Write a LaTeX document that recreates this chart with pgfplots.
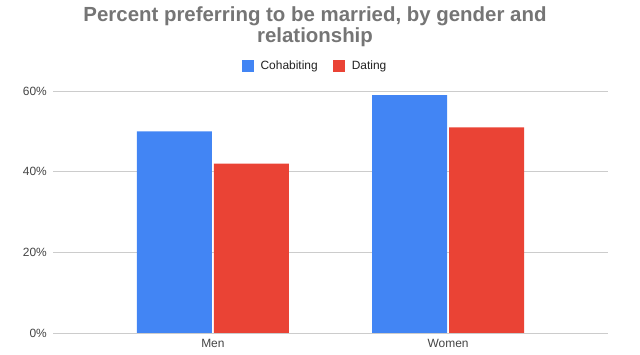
\documentclass[border=0pt]{standalone}
\usepackage{pgfplots}
\pgfplotsset{compat=1.18}
\usepackage{fontspec}
\setmainfont{Liberation Sans}
\definecolor{cblue}{HTML}{4285F4}
\definecolor{cred}{HTML}{EA4335}
\definecolor{ctitle}{HTML}{757575}
\definecolor{ctick}{HTML}{444444}
\definecolor{cgrid}{HTML}{CCCCCC}
\definecolor{cbase}{HTML}{333333}
\definecolor{clegend}{HTML}{222222}
\begin{document}
\begin{tikzpicture}
\useasboundingbox (-53bp,-22bp) rectangle (587bp,333bp);
\begin{axis}[
  scale only axis, width=555bp, height=242bp,
  at={(0,0)}, anchor=south west,
  ymin=0, ymax=60, xmin=-0.68, xmax=1.68,
  xtick={0,1}, xticklabels={Men,Women},
  ytick={0,20,40,60},
  yticklabel={\pgfmathprintnumber{\tick}\%},
  /pgf/number format/assume math mode=true,
  ymajorgrids, grid style={cgrid, line width=1bp},
  axis line style={draw=none},
  major tick length=0pt,
  ybar=2bp, bar width=75bp,
  tick label style={font=\fontsize{12}{14}\selectfont, text=ctick},
  yticklabel style={inner sep=0pt, xshift=-6bp},
  xticklabel style={inner sep=0pt, yshift=-6bp},
  legend style={at={(0.472,1.1033)}, anchor=center, draw=none,
    font=\fontsize{12}{14}\selectfont, text=clegend,
    legend columns=2,
    /tikz/every odd column/.append style={column sep=5bp},
    /tikz/every even column/.append style={column sep=13bp}},
  legend image code/.code={\fill[#1,draw=none] (0bp,-6bp) rectangle (12bp,6bp);},
]
\addplot[fill=cblue, draw=none] coordinates {(0,50) (1,59)};
\addplot[fill=cred, draw=none] coordinates {(0,42) (1,51)};
\legend{Cohabiting, Dating}
\draw[cbase, line width=1bp] (rel axis cs:0,0) -- (rel axis cs:1,0);
\end{axis}
\node[anchor=base, font=\fontsize{20.5}{24}\selectfont\bfseries, text=ctitle] at (262bp,311.3bp) {Percent preferring to be married, by gender and};
\node[anchor=base, font=\fontsize{20.5}{24}\selectfont\bfseries, text=ctitle] at (262bp,290.3bp) {relationship};
\end{tikzpicture}
\end{document}
